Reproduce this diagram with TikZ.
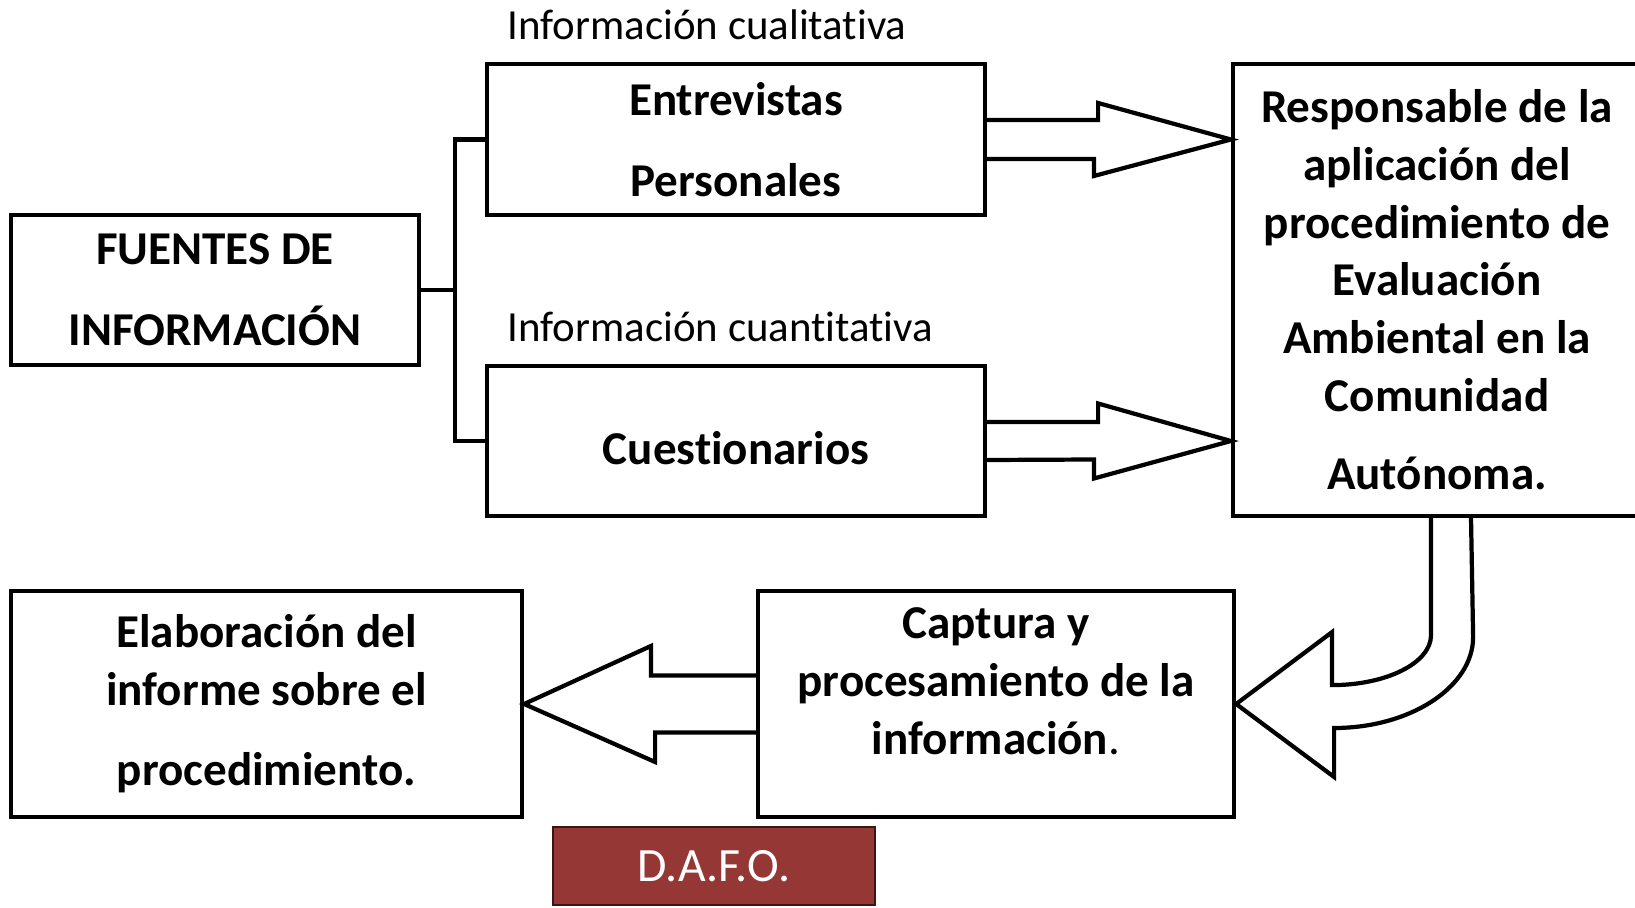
\documentclass[tikz,border=0pt]{standalone}
\usepackage{fontspec}
\setmainfont{Carlito}[Ligatures=NoCommon]
\usetikzlibrary{calc}
\definecolor{dafored}{HTML}{953735}

\begin{document}
\begin{tikzpicture}[
  box/.style={draw, line width=1.2pt, rectangle, align=center, font=\bfseries\fontsize{13.4}{16.4}\selectfont},
  wire/.style={line width=1.2pt, line join=miter},
  blockarrow/.style={draw, line width=1.2pt, line join=miter},
  infolabel/.style={anchor=base west, inner sep=0pt, font=\fontsize{12.2}{14}\selectfont}]

  \useasboundingbox (0,0) rectangle (16.35,-9.07);

  % Boxes
  \node[box, minimum width=4.08cm, minimum height=1.5cm] (src) at (2.15,-2.90) {FUENTES DE\\[6.6pt] INFORMACIÓN};
  \node[box, minimum width=4.98cm, minimum height=1.51cm] (ent) at (7.36,-1.395) {Entrevistas\\[6.8pt] Personales};
  \node[box, minimum width=4.98cm, minimum height=1.5cm, text height=0.48cm] (cue) at (7.36,-4.41) {Cuestionarios};
  \node[box, minimum width=4.08cm, minimum height=4.52cm] (resp) at (14.37,-2.90) {Responsable de la\\ aplicación del\\ procedimiento de\\ Evaluación\\ Ambiental en la\\ Comunidad\\[6pt] Autónoma.};
  \node[box, minimum width=4.76cm, minimum height=2.26cm, text depth=0.46cm] (cap) at (9.96,-7.04) {Captura y\\ procesamiento de la\\ información{\mdseries .}};
  \node[box, minimum width=5.11cm, minimum height=2.26cm] (ela) at (2.665,-7.04) {Elaboración del\\ informe sobre el\\[6.4pt] procedimiento.};
  \node[fill=dafored, draw=black!60!dafored, line width=0.5pt, minimum width=3.22cm, minimum height=0.78cm, text=white, font=\fontsize{13.6}{16}\selectfont] (dafo) at (7.14,-8.66) {D.A.F.O.};

  % Labels
  \node[infolabel] (qual) at (5.07,-0.40) {Información cualitativa};
  \node[infolabel] (quant) at (5.07,-3.41) {Información cuantitativa};

  % Fork
  \draw[wire] (src.east) -- ++(0.34,0) coordinate (fork);
  \draw[wire] (ent.west) -| (fork) |- (cue.west);

  % Block arrows
  \draw[blockarrow] (ent.east) ++(0,0.195) -- ++(1.11,0) -- ++(0,0.17) -- (ent.east -| resp.west)
    -- ++(-1.37,-0.365) -- ++(0,0.17) -- ($(ent.east)+(0,-0.195)$);
  \draw[blockarrow] (cue.east) ++(0,0.19) -- ++(1.11,0) -- ++(0,0.185) -- (cue.east -| resp.west)
    -- ++(-1.37,-0.375) -- ++(0,0.19) -- ($(cue.east)+(0,-0.19)$);
  \draw[blockarrow] ($(resp.south)+(-0.06,0)$) -- ++(0,-1.17)
    .. controls +(0,-0.28) and +(0.54,0) .. ++(-0.99,-0.50) -- ++(0,0.53) -- (cap.east)
    -- ++(0.98,-0.73) -- ++(0,0.49)
    .. controls +(0.76,0) and +(0,-0.50) .. ++(1.39,0.91) -- ($(resp.south)+(0.34,0)$);
  \draw[blockarrow] (cap.west) ++(0,0.285) -- ++(-1.05,0) -- ++(0,0.295) -- (ela.east)
    -- ++(1.31,-0.58) -- ++(0,0.295) -- ($(cap.west)+(0,-0.285)$);
\end{tikzpicture}
\end{document}
